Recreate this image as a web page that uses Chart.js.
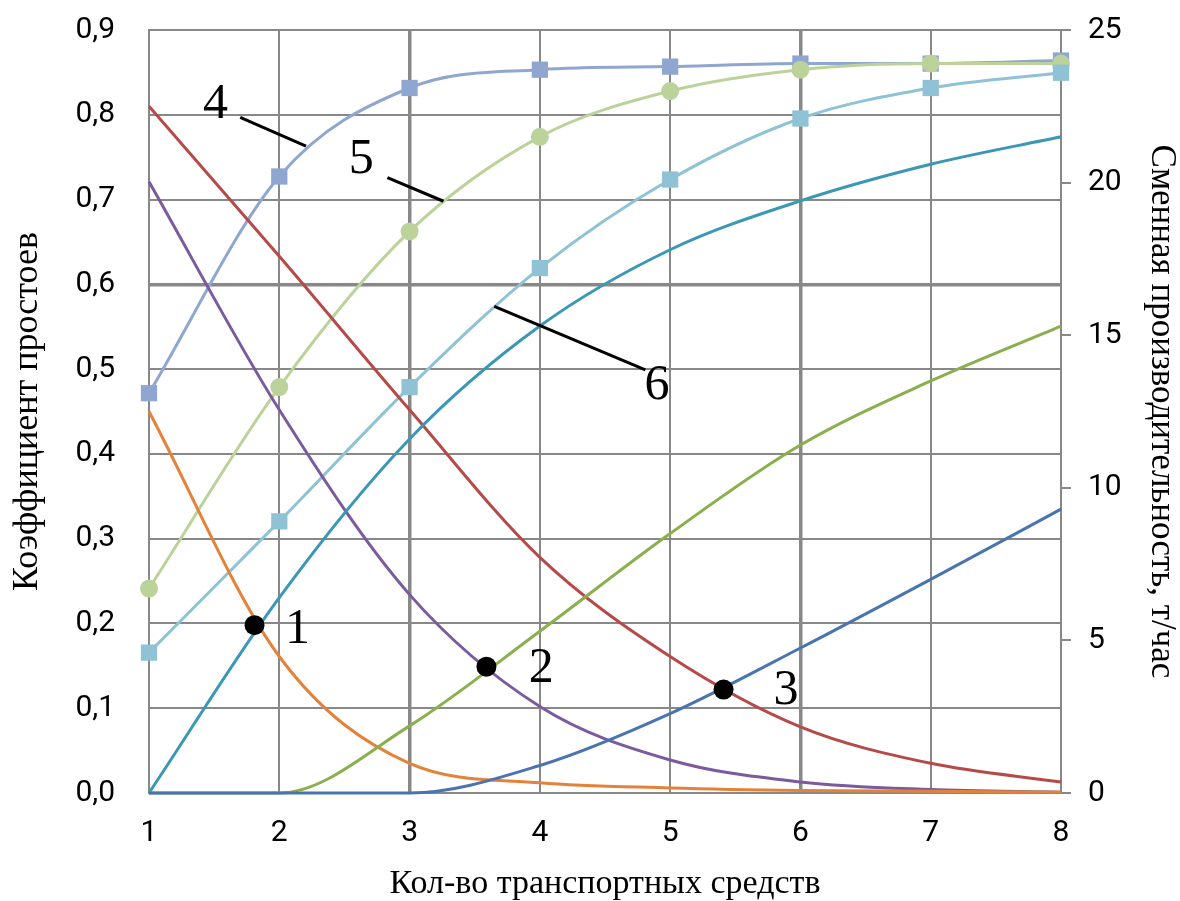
<!DOCTYPE html>
<html>
<head>
<meta charset="utf-8">
<script src="https://cdn.jsdelivr.net/npm/chart.js@4.4.1/dist/chart.umd.min.js"></script>
<style>
  body { margin: 0; background: #fff; }
  #myChart { display: block; }
</style>
</head>
<body>
<canvas id="myChart" width="1180" height="901"></canvas>
<script>
var xValues = [1, 2, 3, 4, 5, 6, 7, 8];

// downtime coefficient (left axis)
var downtime1 = [0.450, 0.161, 0.035, 0.012, 0.006, 0.003, 0.002, 0.001];
var downtime2 = [0.721, 0.452, 0.234, 0.102, 0.039, 0.013, 0.004, 0.001];
var downtime3 = [0.810, 0.633, 0.452, 0.278, 0.161, 0.078, 0.035, 0.013];

// shift productivity, t/hour (right axis)
var prodSquares = [13.1, 20.2, 23.1, 23.7, 23.8, 23.9, 23.9, 24.0];
var prodCircles = [6.7, 13.3, 18.4, 21.5, 23.0, 23.7, 23.9, 23.9];
var prodLightSquares = [4.6, 8.9, 13.3, 17.2, 20.1, 22.1, 23.1, 23.6];
var prodTeal = [0, 6.4, 11.6, 15.3, 17.8, 19.4, 20.6, 21.5];
var prodGreen = [0, 0, 2.2, 5.3, 8.5, 11.4, 13.5, 15.3];
var prodBlue = [0, 0, 0, 0.9, 2.6, 4.75, 7.0, 9.3];

// intersection points
var crossX = [1.81, 3.59, 5.41];
var crossY = [0.198, 0.149, 0.122];

// number labels (in left axis units)
var noteText = ['1', '2', '3', '4', '5', '6'];
var noteX = [2.14, 4.01, 5.89, 1.51, 2.63, 4.90];
var noteY = [0.193, 0.146, 0.120, 0.812, 0.747, 0.480];
// leader lines for 4, 5, 6
var leaderFromX = [1.70, 2.83, 3.65];
var leaderFromY = [0.797, 0.726, 0.574];
var leaderToX = [2.205, 3.26, 4.81];
var leaderToY = [0.763, 0.698, 0.499];

var yTicks = ['0,0', '0,1', '0,2', '0,3', '0,4', '0,5', '0,6', '0,7', '0,8', '0,9'];

function points(ys) {
    var out = [];
    for (var i = 0; i < xValues.length; i++) {
        out.push({ x: xValues[i], y: ys[i] });
    }
    return out;
}

function line(data, color, axis, marker, size) {
    return {
        data: points(data),
        borderColor: color,
        backgroundColor: color,
        borderWidth: 3,
        yAxisID: axis,
        cubicInterpolationMode: 'monotone',
        pointStyle: marker || 'circle',
        pointRadius: marker ? size : 0,
        pointBorderWidth: 0,
        clip: false
    };
}

var crossPoints = [];
for (var i = 0; i < crossX.length; i++) crossPoints.push({ x: crossX[i], y: crossY[i] });

var datasets = [
    {
        data: crossPoints,
        showLine: false,
        pointRadius: 10,
        pointBackgroundColor: '#000',
        pointBorderWidth: 0,
        yAxisID: 'y',
        order: -1
    },
    line(prodBlue, '#4a74b0', 'y2'),
    line(prodGreen, '#8aaf4d', 'y2'),
    line(prodTeal, '#3a98b5', 'y2'),
    line(downtime1, '#e5823a', 'y'),
    line(downtime2, '#7b5a9d', 'y'),
    line(downtime3, '#b54a48', 'y'),
    line(prodLightSquares, '#8fc2d5', 'y2', 'rect', 11.5),
    line(prodCircles, '#bcd29b', 'y2', 'circle', 9),
    line(prodSquares, '#8fa6d0', 'y2', 'rect', 11.5)
];

var gridColor = '#888888';
var serif = '"Liberation Serif", "DejaVu Serif", serif';
var sans = 'Roboto, "Open Sans", sans-serif';

var notesPlugin = {
    id: 'notes',
    afterDatasetsDraw: function (chart) {
        var c = chart.ctx;
        var sx = chart.scales.x, sy = chart.scales.y;
        c.save();
        c.strokeStyle = '#000';
        c.lineWidth = 3;
        for (var i = 0; i < leaderFromX.length; i++) {
            c.beginPath();
            c.moveTo(sx.getPixelForValue(leaderFromX[i]), sy.getPixelForValue(leaderFromY[i]));
            c.lineTo(sx.getPixelForValue(leaderToX[i]), sy.getPixelForValue(leaderToY[i]));
            c.stroke();
        }
        c.fillStyle = '#000';
        c.font = '50px ' + serif;
        c.textAlign = 'center';
        c.textBaseline = 'middle';
        for (var j = 0; j < noteText.length; j++) {
            c.fillText(noteText[j], sx.getPixelForValue(noteX[j]), sy.getPixelForValue(noteY[j]));
        }
        c.restore();
    }
};

// keep tick label overflow from pushing the plot area down
function fixWidth(w) {
    return function (s) {
        s.width = w;
        s.paddingTop = 0;
        s.paddingBottom = 0;
    };
}

var ctx = document.getElementById('myChart');
var myChart = new Chart(ctx, {
    type: 'line',
    data: { datasets: datasets },
    plugins: [notesPlugin],
    options: {
        responsive: false,
        animation: false,
        devicePixelRatio: 1,
        layout: { padding: { top: 30, left: 0, right: 0, bottom: 0 } },
        plugins: { legend: { display: false }, tooltip: { enabled: false } },
        scales: {
            x: {
                type: 'linear',
                min: 1,
                max: 8,
                afterFit: function (s) { s.height = 108; },
                ticks: {
                    stepSize: 1,
                    color: '#000',
                    padding: 22,
                    font: { family: sans, size: 30 }
                },
                grid: {
                    color: gridColor,
                    drawTicks: false,
                    lineWidth: function (c) { return (c.tick && (c.tick.value === 3 || c.tick.value === 6)) ? 3.5 : 2; }
                },
                border: { color: gridColor, width: 2 },
                title: {
                    display: true,
                    text: 'Кол-во транспортных средств',
                    color: '#000',
                    font: { family: serif, size: 34, lineHeight: 1 },
                    padding: { top: 0, bottom: 0 }
                }
            },
            y: {
                position: 'left',
                min: 0,
                max: 0.9,
                afterFit: fixWidth(149),
                ticks: {
                    stepSize: 0.1,
                    color: '#000',
                    padding: 34,
                    font: { family: sans, size: 30 },
                    callback: function (v) { return yTicks[Math.round(v * 10)]; }
                },
                grid: {
                    color: gridColor,
                    drawTicks: false,
                    lineWidth: function (c) { return (c.tick && Math.abs(c.tick.value - 0.6) < 1e-6) ? 3.5 : 2; }
                },
                border: { color: gridColor, width: 2 },
                title: {
                    display: true,
                    text: 'Коэффициент простоев',
                    color: '#000',
                    font: { family: serif, size: 36, lineHeight: 1 },
                    padding: { top: 10, bottom: 0 }
                }
            },
            y2: {
                position: 'right',
                min: 0,
                max: 25,
                afterFit: fixWidth(119),
                ticks: {
                    stepSize: 5,
                    color: '#000',
                    padding: 17,
                    font: { family: sans, size: 30 }
                },
                grid: {
                    color: gridColor,
                    drawOnChartArea: false,
                    tickLength: 10,
                    lineWidth: 2
                },
                border: { display: false },
                title: {
                    display: true,
                    text: 'Сменная производительность, т/час',
                    color: '#000',
                    font: { family: serif, size: 35, lineHeight: 1 },
                    padding: { top: 1, bottom: 0 }
                }
            }
        }
    }
});
</script>
</body>
</html>
